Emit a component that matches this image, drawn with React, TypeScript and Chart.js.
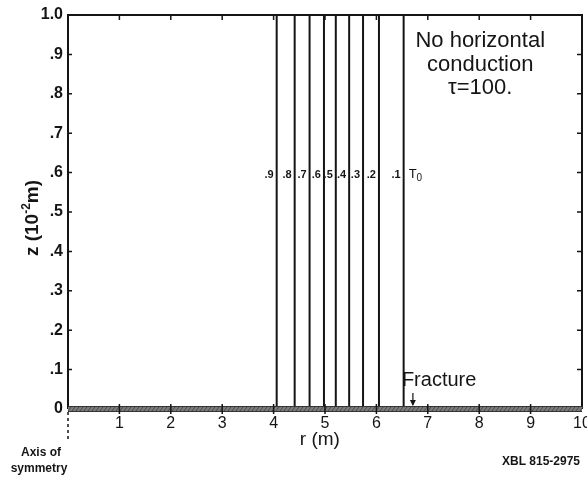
import React, { useEffect, useRef } from 'react';
import { Chart, registerables } from 'chart.js';

Chart.register(...registerables);

// Isotherm contours (dimensionless temperature levels) and their radial positions r (m)
const contourLabels = ['.9', '.8', '.7', '.6', '.5', '.4', '.3', '.2', '.1'];
const contourR = [4.06, 4.41, 4.7, 4.98, 5.21, 5.47, 5.74, 6.05, 6.53];
const contourZ = [0, 1.0];
const contourLabelZ = 0.594;

const xTickValues = [1, 2, 3, 4, 5, 6, 7, 8, 9, 10];
const yTickLabels = ['0', '.1', '.2', '.3', '.4', '.5', '.6', '.7', '.8', '.9', '1.0'];

const noteLines = ['No horizontal', 'conduction', 'τ=100.'];
const noteR = 8.02;
const noteZ = [0.934, 0.873, 0.814];

const fractureR = 6.71;
const xTitle = 'r (m)';
const yTitle = ['z (10', '-2', 'm)'];

const INK = '#151515';
const FONT = '"Liberation Sans", Arial, sans-serif';

const overlayPlugin = {
  id: 'overlay',
  afterDraw(chart: any) {
    const ctx = chart.ctx as CanvasRenderingContext2D;
    const xs = chart.scales.x;
    const ys = chart.scales.y;
    const { left, right, top, bottom } = chart.chartArea;
    ctx.save();
    ctx.strokeStyle = INK;
    ctx.fillStyle = INK;
    ctx.lineCap = 'butt';

    // frame (top, left, right)
    ctx.lineWidth = 2;
    ctx.beginPath();
    ctx.moveTo(left, bottom);
    ctx.lineTo(left, top);
    ctx.lineTo(right, top);
    ctx.lineTo(right, bottom);
    ctx.stroke();

    // fracture band along z = 0
    const y0 = ys.getPixelForValue(0);
    ctx.fillStyle = '#7a7a7a';
    ctx.fillRect(left, y0 - 2.5, right - left, 5);
    ctx.lineWidth = 1;
    ctx.strokeStyle = '#333';
    ctx.beginPath();
    ctx.moveTo(left, y0 - 2.5);
    ctx.lineTo(right, y0 - 2.5);
    ctx.moveTo(left, y0 + 2.5);
    ctx.lineTo(right, y0 + 2.5);
    ctx.stroke();
    ctx.strokeStyle = '#4a4a4a';
    ctx.beginPath();
    for (let x = left; x < right; x += 4) {
      ctx.moveTo(x, y0 + 2);
      ctx.lineTo(x + 3, y0 - 2);
    }
    ctx.stroke();

    // tick marks
    ctx.strokeStyle = INK;
    ctx.lineWidth = 1.5;
    ctx.beginPath();
    for (let i = 1; i < 10; i++) {
      const px = xs.getPixelForValue(i);
      ctx.moveTo(px, top);
      ctx.lineTo(px, top + 5);
      ctx.moveTo(px, y0 - 5);
      ctx.lineTo(px, y0 + 5);
    }
    for (let i = 1; i < 10; i++) {
      const py = ys.getPixelForValue(i / 10);
      ctx.moveTo(left, py);
      ctx.lineTo(left + 4, py);
      ctx.moveTo(right, py);
      ctx.lineTo(right - 5, py);
    }
    ctx.stroke();

    // axis of symmetry dashed marker
    ctx.lineWidth = 1.5;
    ctx.setLineDash([3, 3]);
    ctx.beginPath();
    ctx.moveTo(left, y0 + 3);
    ctx.lineTo(left, y0 + 33);
    ctx.stroke();
    ctx.setLineDash([]);

    // contour labels
    ctx.fillStyle = INK;
    ctx.font = `bold 11px ${FONT}`;
    ctx.textBaseline = 'middle';
    ctx.textAlign = 'right';
    const ly = ys.getPixelForValue(contourLabelZ);
    contourLabels.forEach((lab, i) => {
      ctx.fillText(lab, xs.getPixelForValue(contourR[i]) - 3, ly);
    });
    ctx.textAlign = 'left';
    const tx = xs.getPixelForValue(contourR[contourR.length - 1]) + 5;
    ctx.font = `13px ${FONT}`;
    ctx.fillText('T', tx, ly - 1);
    const tw = ctx.measureText('T').width;
    ctx.font = `10px ${FONT}`;
    ctx.fillText('0', tx + tw, ly + 3);

    // note text
    ctx.textAlign = 'center';
    ctx.font = `22px ${FONT}`;
    noteLines.forEach((line, i) => {
      ctx.fillText(line, xs.getPixelForValue(noteR), ys.getPixelForValue(noteZ[i]));
    });

    // Fracture label + arrow
    const fx = xs.getPixelForValue(fractureR);
    ctx.font = `20px ${FONT}`;
    ctx.textAlign = 'left';
    ctx.fillText('Fracture', fx - 11, y0 - 29);
    ctx.lineWidth = 1.2;
    ctx.beginPath();
    ctx.moveTo(fx, y0 - 16);
    ctx.lineTo(fx, y0 - 4);
    ctx.stroke();
    ctx.beginPath();
    ctx.moveTo(fx - 3, y0 - 9);
    ctx.lineTo(fx + 3, y0 - 9);
    ctx.lineTo(fx, y0 - 3);
    ctx.closePath();
    ctx.fill();

    // x title
    ctx.textAlign = 'center';
    ctx.font = `19px ${FONT}`;
    ctx.fillText(xTitle, xs.getPixelForValue(4.9), 440);

    // y title (rotated, with superscript)
    ctx.save();
    ctx.translate(33, 218);
    ctx.rotate(-Math.PI / 2);
    ctx.textAlign = 'left';
    const big = `bold 19px ${FONT}`;
    const small = `bold 12px ${FONT}`;
    ctx.font = big;
    const w1 = ctx.measureText(yTitle[0]).width;
    const w3 = ctx.measureText(yTitle[2]).width;
    ctx.font = small;
    const w2 = ctx.measureText(yTitle[1]).width;
    let cx = -(w1 + w2 + w3) / 2;
    ctx.font = big;
    ctx.fillText(yTitle[0], cx, 0);
    cx += w1;
    ctx.font = small;
    ctx.fillText(yTitle[1], cx, -6);
    cx += w2;
    ctx.font = big;
    ctx.fillText(yTitle[2], cx, 0);
    ctx.restore();

    // footnotes
    ctx.textAlign = 'center';
    ctx.font = `bold 12px ${FONT}`;
    ctx.fillText('Axis of', 41, 453);
    ctx.fillText('symmetry', 39, 469);
    ctx.font = `bold 12px ${FONT}`;
    ctx.fillText('XBL 815-2975', 541, 462);

    ctx.restore();
  },
};

export default function App() {
  const ref = useRef<HTMLCanvasElement>(null);

  useEffect(() => {
    if (!ref.current) return;
    const datasets = contourR.map((r, i) => ({
      label: contourLabels[i],
      data: contourZ.map((z) => ({ x: r, y: z })),
      borderColor: INK,
      borderWidth: 2,
      pointRadius: 0,
      fill: false,
    }));
    const chart = new Chart(ref.current, {
      type: 'line',
      data: { datasets },
      options: {
        responsive: false,
        animation: false,
        events: [],
        layout: { padding: { top: 15, right: 5, left: 0, bottom: 0 } },
        plugins: { legend: { display: false }, tooltip: { enabled: false }, title: { display: false } },
        scales: {
          x: {
            type: 'linear',
            min: 0,
            max: 10,
            grid: { display: false, drawTicks: false },
            border: { display: false },
            afterBuildTicks: (s: any) => {
              s.ticks = xTickValues.map((v) => ({ value: v }));
            },
            ticks: {
              color: INK,
              padding: 5,
              maxRotation: 0,
              autoSkip: false,
              font: { family: FONT, size: 16 },
              callback: (v: any) => String(v),
            },
            afterFit: (s: any) => {
              s.height = 72;
              s.paddingLeft = 0;
              s.paddingRight = 0;
            },
          },
          y: {
            type: 'linear',
            min: 0,
            max: 1,
            grid: { display: false, drawTicks: false },
            border: { display: false },
            ticks: {
              stepSize: 0.1,
              color: INK,
              padding: 5,
              autoSkip: false,
              font: { family: FONT, size: 16, weight: 'bold' },
              callback: (_v: any, i: number) => yTickLabels[i],
            },
            afterFit: (s: any) => {
              s.width = 68;
              s.paddingTop = 0;
              s.paddingBottom = 0;
            },
          },
        },
      },
      plugins: [overlayPlugin],
    });
    return () => chart.destroy();
  }, []);

  return (
    <canvas
      ref={ref}
      width={587}
      height={481}
      style={{ position: 'absolute', left: 0, top: 0, width: 587, height: 481, display: 'block', background: '#fff' }}
    />
  );
}
